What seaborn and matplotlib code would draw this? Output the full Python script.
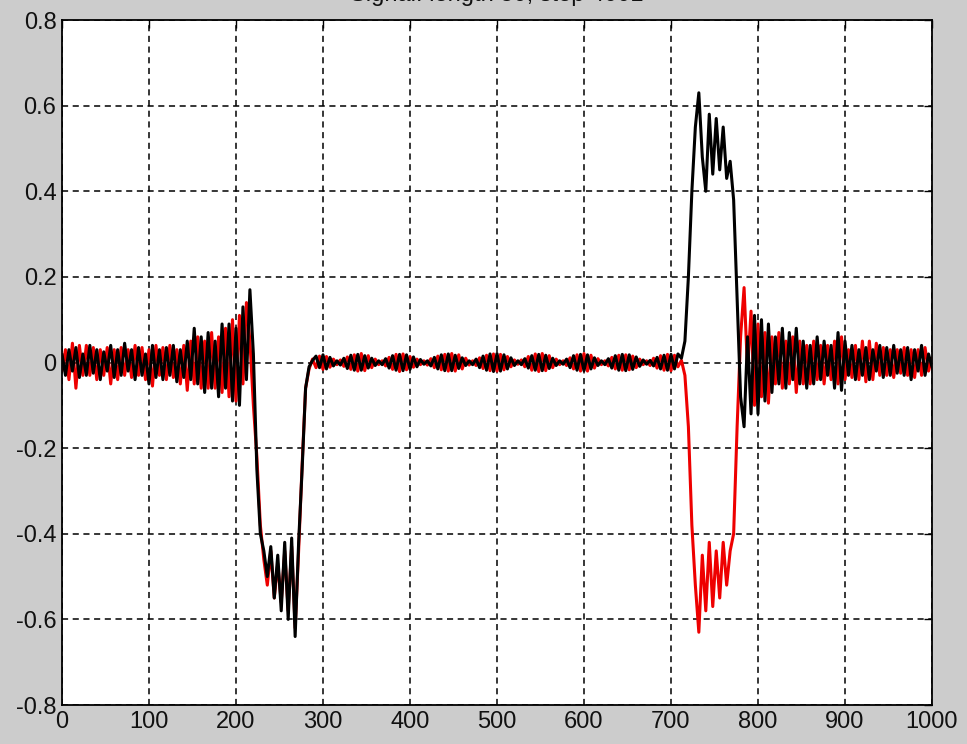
import numpy as np
import pandas as pd
import matplotlib
matplotlib.use("Agg")
import matplotlib.pyplot as plt
import seaborn as sns

# sample spacing (one point every 4 samples)
step = 4

# black trace, split into the visible pieces of the signal
black_a = [0.02, -0.03, 0.03, -0.02, 0.035, -0.035, 0.02, -0.03, 0.04, -0.025,
           0.03, -0.04, 0.025, -0.02, 0.04, -0.035, 0.03, -0.03, 0.045, -0.02,
           0.03, -0.04, 0.035, -0.03, 0.02, -0.05, 0.04, -0.035, 0.03, -0.04,
           0.035, -0.03, 0.04, -0.045, 0.03, -0.035, 0.05, -0.04, 0.08, -0.05,
           0.06, -0.07, 0.07, -0.06, 0.05, -0.08, 0.09, -0.06, 0.09, -0.09,
           0.08, -0.10, 0.13, -0.04, 0.17, 0.02]                      # 0..220
black_b = [-0.25, -0.40, -0.44, -0.50, -0.43, -0.55, -0.45, -0.58, -0.42, -0.60,
           -0.41, -0.64, -0.42, -0.25, -0.06, -0.01, 0.005]            # 224..288
black_c = [0.015, -0.012, 0.018, -0.015, 0.012, -0.008, 0.004, -0.006, 0.01, -0.014,
           0.017, -0.018, 0.019, -0.018, 0.016, -0.013, 0.01, -0.007, 0.004, -0.005,
           0.009, -0.013, 0.016, -0.018, 0.019, -0.019, 0.018, -0.016, 0.013, -0.01,
           0.007, -0.004, 0.004, -0.008, 0.012, -0.015, 0.018, -0.019, 0.02, -0.019,
           0.017, -0.014, 0.011, -0.007, 0.004, -0.005, 0.008, -0.012, 0.015, -0.018,
           0.02, -0.021, 0.021, -0.02, 0.018, -0.015, 0.011, -0.007, 0.004, -0.005,
           0.009, -0.013, 0.016, -0.018, 0.019, -0.019, 0.017, -0.014, 0.01, -0.007,
           0.004, -0.004, 0.008, -0.012, 0.016, -0.018, 0.019, -0.019, 0.018, -0.015,
           0.011, -0.007, 0.004, -0.005, 0.009, -0.013, 0.016, -0.018, 0.019, -0.019,
           0.018, -0.016, 0.013, -0.009, 0.006, -0.004, 0.005, -0.008, 0.012, -0.015,
           0.017, -0.018, 0.019, -0.015, 0.02]                         # 292..708
black_d = [0.01, 0.05, 0.20, 0.40, 0.55, 0.63, 0.48, 0.40, 0.58, 0.44,
           0.57, 0.45, 0.55, 0.43, 0.47, 0.38, 0.15, -0.08, -0.15, 0.06,
           -0.12, 0.11]                                                # 712..796
black_e = [-0.12, 0.10, -0.09, 0.09, -0.07, 0.06, -0.05, 0.08, -0.06, 0.07,
           -0.04, 0.08, -0.05, 0.05, -0.06, 0.04, -0.05, 0.06, -0.04, 0.05,
           -0.03, 0.04, -0.06, 0.07, -0.065, 0.05, -0.03, 0.04, -0.04, 0.03,
           -0.03, 0.035, -0.04, 0.03, -0.02, 0.04, -0.035, 0.035, -0.03, 0.04,
           -0.025, 0.03, -0.03, 0.035, -0.04, 0.03, -0.02, 0.04, -0.03, 0.02,
           -0.01]                                                      # 800..1000

# red trace, same pieces
red_a = [-0.02, 0.03, -0.04, 0.045, -0.06, 0.04, -0.03, 0.04, -0.03, 0.035,
         -0.04, 0.03, -0.03, 0.035, -0.05, 0.03, -0.04, 0.035, -0.03, 0.03,
         -0.035, 0.04, -0.03, 0.035, -0.04, 0.03, -0.055, 0.04, -0.03, 0.035,
         -0.04, 0.04, -0.035, 0.03, -0.05, 0.04, -0.065, 0.05, -0.05, 0.06,
         -0.06, 0.05, -0.06, 0.07, -0.06, 0.06, -0.07, 0.08, -0.08, 0.10,
         -0.09, 0.11, -0.05, 0.14, 0.05, -0.10]
red_b = [-0.22, -0.38, -0.46, -0.52, -0.44, -0.55, -0.47, -0.56, -0.44, -0.58,
         -0.43, -0.62, -0.44, -0.24, -0.06, -0.015, 0.008]
red_c = [-0.012, 0.015, -0.016, 0.014, -0.011, 0.008, -0.005, 0.006, -0.009, 0.013,
         -0.016, 0.018, -0.02, 0.021, -0.019, 0.016, -0.012, 0.008, -0.005, 0.004,
         -0.008, 0.012, -0.016, 0.019, -0.021, 0.02, -0.017, 0.014, -0.011, 0.008,
         -0.005, 0.004, -0.006, 0.009, -0.012, 0.015, -0.017, 0.019, -0.02, 0.021,
         -0.02, 0.018, -0.015, 0.01, -0.006, 0.004, -0.007, 0.011, -0.014, 0.017,
         -0.019, 0.02, -0.02, 0.019, -0.017, 0.014, -0.01, 0.006, -0.004, 0.006,
         -0.01, 0.014, -0.018, 0.02, -0.021, 0.021, -0.019, 0.016, -0.012, 0.008,
         -0.005, 0.004, -0.007, 0.011, -0.015, 0.018, -0.02, 0.021, -0.02, 0.017,
         -0.013, 0.009, -0.005, 0.004, -0.008, 0.012, -0.015, 0.017, -0.018, 0.018,
         -0.017, 0.015, -0.012, 0.008, -0.005, 0.004, -0.007, 0.01, -0.013, 0.016,
         -0.018, 0.019, -0.019, 0.017, -0.01]
red_d = [0.005, -0.03, -0.15, -0.38, -0.52, -0.63, -0.45, -0.58, -0.42, -0.57,
         -0.44, -0.55, -0.42, -0.52, -0.44, -0.40, -0.15, 0.06, 0.175, -0.02,
         0.12, -0.10]
red_e = [0.09, -0.08, 0.07, -0.095, 0.06, -0.05, 0.07, -0.06, 0.05, -0.05,
         0.06, -0.07, 0.05, -0.05, 0.04, -0.05, 0.05, -0.04, 0.04, -0.05,
         0.04, -0.04, 0.05, -0.05, 0.06, -0.04, 0.03, -0.035, 0.04, -0.04,
         0.05, -0.045, 0.05, -0.04, 0.045, -0.03, 0.035, -0.03, 0.03, -0.035,
         0.03, -0.025, 0.035, -0.03, 0.03, -0.035, 0.03, -0.03, 0.035, -0.02,
         0.01]

xs = np.concatenate([np.arange(0, 221, step), np.arange(224, 289, step),
                     np.arange(292, 709, step), np.arange(712, 797, step),
                     np.arange(800, 1001, step)])
black = black_a + black_b + black_c + black_d + black_e
red = red_a + red_b + red_c + red_d + red_e

df = pd.DataFrame({'x': xs, 'black': black, 'red': red})

sns.set_style('white')
plt.rcParams['font.family'] = ['Liberation Sans', 'DejaVu Sans']

fig = plt.figure(figsize=(9.67, 7.44), dpi=100, facecolor='#cccccc')
ax = fig.add_axes([0.0641, 0.0524, 0.8997, 0.9207])
ax.set_facecolor('white')

sns.lineplot(data=df, x='x', y='red', color='#ee0000', lw=2.2, sort=False,
             estimator=None, ax=ax)
sns.lineplot(data=df, x='x', y='black', color='black', lw=2.2, sort=False,
             estimator=None, ax=ax)

ax.set_xlim(0, 1000)
ax.set_ylim(-0.8, 0.8)
ax.set_xticks(np.arange(0, 1001, 100))
ax.set_yticks(np.round(np.arange(-0.8, 0.81, 0.2), 1))
ax.set_yticklabels(['-0.8', '-0.6', '-0.4', '-0.2', '0', '0.2', '0.4', '0.6', '0.8'])
ax.set_xlabel('')
ax.set_ylabel('')
ax.grid(True, color='black', linestyle=(0, (4, 3)), lw=1.1)
ax.set_axisbelow(True)
for s in ax.spines.values():
    s.set_color('black')
    s.set_linewidth(1.3)
ax.tick_params(direction='in', length=6, width=1, colors='black',
               labelsize=17, labelcolor='#111111', pad=4,
               top=True, right=True)

fig.text(0.514, 0.992, 'Signal: length 50, step 4001', ha='center', va='bottom',
         fontsize=17, color='#111111')

fig.savefig('out.png', dpi=100, facecolor=fig.get_facecolor())
